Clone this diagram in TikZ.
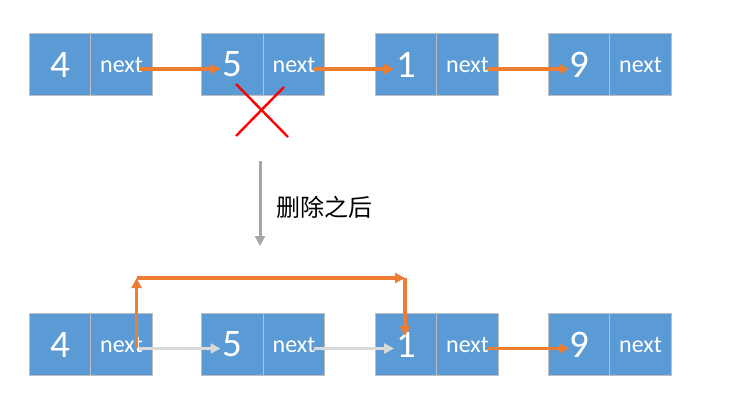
\documentclass[tikz,border=0pt]{standalone}
\usepackage{fontspec}
\setmainfont{Carlito}
\newfontfamily\cjk{Noto Sans CJK SC}
\usetikzlibrary{arrows.meta}
\definecolor{cellblue}{HTML}{5B9BD5}
\definecolor{celledge}{HTML}{BFBFBF}
\definecolor{linkorange}{HTML}{ED7D31}
\definecolor{oldgray}{HTML}{D9D9D9}
\definecolor{midgray}{HTML}{A6A6A6}
\tikzset{
  x=1pt, y=-1pt,
  cell/.style={draw=celledge, line width=1pt, fill=cellblue, text=white,
    minimum width=61.5pt, minimum height=61.5pt, inner sep=0pt, anchor=center},
  numcell/.style={cell, font=\fontsize{39}{39}\selectfont},
  nextcell/.style={cell, font=\fontsize{24}{24}\selectfont},
  link/.style={draw=linkorange, line width=3.2pt,
    -{Triangle[length=10pt,width=10pt]}},
  oldlink/.style={draw=oldgray, line width=3.2pt,
    -{Triangle[length=10pt,width=10pt]}},
}
\begin{document}
\begin{tikzpicture}
\useasboundingbox (0,0) rectangle (738,400);
% top row
\node[numcell] (ta4) at (60,64.5) {4};
\node[nextcell] (tn4) at (121.5,64.5) {next};
\node[numcell] (ta5) at (232.5,64.5) {5};
\node[nextcell] (tn5) at (294,64.5) {next};
\node[numcell] (ta1) at (406,64.5) {1};
\node[nextcell] (tn1) at (467.5,64.5) {next};
\node[numcell] (ta9) at (579,64.5) {9};
\node[nextcell] (tn9) at (640.5,64.5) {next};
\draw[link] ([xshift=17pt,yshift=-4.5pt]tn4.center) -- ([xshift=-12pt,yshift=-4.5pt]ta5.center);
\draw[link] ([xshift=20pt,yshift=-4.5pt]tn5.center) -- ([xshift=-12pt,yshift=-4.5pt]ta1.center);
\draw[link] ([xshift=20pt,yshift=-4.5pt]tn1.center) -- ([xshift=-10pt,yshift=-4.5pt]ta9.center);
% red cross
\coordinate (x1) at (236,84);
\coordinate (x2) at (288,137);
\coordinate (x3) at (284,87);
\coordinate (x4) at (236,136);
\draw[red, line width=2.4pt] (x1) -- (x2);
\draw[red, line width=2.4pt] (x3) -- (x4);
% transition arrow
\coordinate (g1) at (260,161);
\coordinate (g2) at (260,246);
\draw[midgray, line width=3pt, -{Triangle[length=10pt,width=10pt]}] (g1) -- (g2);
\node[anchor=west, inner sep=0pt, font=\cjk\fontsize{24}{24}\selectfont] (lbl) at (276,207) {删除之后};
% bottom row
\node[numcell] (ba4) at (60,344.5) {4};
\node[nextcell] (bn4) at (121.5,344.5) {next};
\node[numcell] (ba5) at (232.5,344.5) {5};
\node[nextcell] (bn5) at (294,344.5) {next};
\node[numcell] (ba1) at (406,344.5) {1};
\node[nextcell] (bn1) at (467.5,344.5) {next};
\node[numcell] (ba9) at (579,344.5) {9};
\node[nextcell] (bn9) at (640.5,344.5) {next};
\draw[oldlink] ([xshift=17pt,yshift=-4pt]bn4.center) -- ([xshift=-12pt,yshift=-4pt]ba5.center);
\draw[oldlink] ([xshift=20pt,yshift=-4pt]bn5.center) -- ([xshift=-12pt,yshift=-4pt]ba1.center);
\draw[link] ([xshift=20pt,yshift=-4pt]bn1.center) -- ([xshift=-10pt,yshift=-4pt]ba9.center);
% bypass link
\coordinate (s0) at (136.5,348);
\coordinate (c1) at (136.5,278);
\coordinate (c2) at (405,278);
\coordinate (c3) at (405,336);
\draw[link] (s0) -- (c1);
\draw[link] (c1) -- (c2);
\draw[link] (c2) -- (c3);
\end{tikzpicture}
\end{document}
